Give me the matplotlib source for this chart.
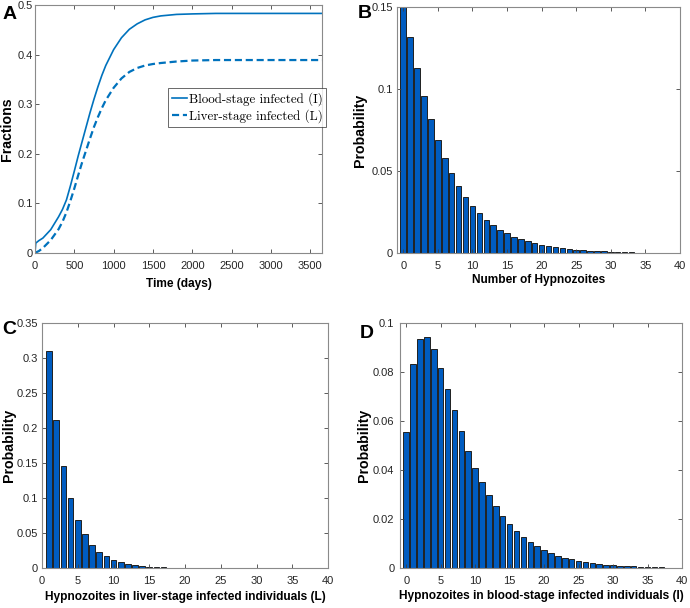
import matplotlib
matplotlib.use("Agg")
import matplotlib.pyplot as plt
from matplotlib.ticker import FormatStrFormatter
import numpy as np

SANS = ['Liberation Sans', 'DejaVu Sans']
plt.rcParams['font.family'] = SANS

# panel A: fractions over time
days = [0, 10, 50, 100, 200, 300, 350, 400, 450, 500, 550, 600, 650, 700,
        750, 800, 850, 900, 1000, 1100, 1200, 1300, 1400, 1500, 1600, 1800,
        2000, 2300, 2600, 3000, 3650]
blood_I = [0, 0.020, 0.025, 0.030, 0.047, 0.073, 0.088, 0.107, 0.135, 0.165,
           0.196, 0.225, 0.254, 0.283, 0.310, 0.335, 0.358, 0.378, 0.410,
           0.434, 0.451, 0.462, 0.470, 0.475, 0.478, 0.481, 0.482, 0.483,
           0.483, 0.483, 0.483]
liver_L = [0, 0.001, 0.004, 0.010, 0.026, 0.048, 0.063, 0.082, 0.105, 0.130,
           0.157, 0.183, 0.207, 0.231, 0.254, 0.274, 0.292, 0.308, 0.333,
           0.352, 0.365, 0.373, 0.378, 0.381, 0.383, 0.386, 0.388, 0.389,
           0.389, 0.389, 0.389]

# panel B: number of hypnozoites
hyp_B = [0.152, 0.132, 0.113, 0.096, 0.082, 0.0686, 0.0577, 0.0488, 0.0407,
         0.0344, 0.0285, 0.0241, 0.0204, 0.0170, 0.0142, 0.0121, 0.0099,
         0.0085, 0.0071, 0.0059, 0.0049, 0.0040, 0.0034, 0.0028, 0.0024,
         0.0020, 0.0017, 0.0014, 0.0012, 0.0010, 0.0008, 0.0006, 0.0005,
         0.0004]

# panel C: hypnozoites in liver-stage infected (starts at 1)
hyp_C = [0.310, 0.212, 0.145, 0.0997, 0.0684, 0.048, 0.0332, 0.0233,
         0.0166, 0.0119, 0.0082, 0.0057, 0.0040, 0.0028, 0.0020, 0.0013,
         0.0009]

# panel D: hypnozoites in blood-stage infected
hyp_D = [0.0555, 0.0834, 0.0936, 0.0942, 0.0892, 0.0818, 0.0732, 0.0644,
         0.0558, 0.0478, 0.0410, 0.0350, 0.0298, 0.0253, 0.0212, 0.0180,
         0.0152, 0.0128, 0.0107, 0.0090, 0.0073, 0.0061, 0.0050, 0.0042,
         0.0035, 0.0030, 0.0025, 0.0019, 0.0016, 0.0014, 0.0011, 0.0009,
         0.0008, 0.0007, 0.0005, 0.0004, 0.0003, 0.0003, 0.0002]

line_col = '#0072BD'
bar_col = '#005CC0'
axis_col = '#404040'

fig = plt.figure(figsize=(6.9, 6.08), dpi=100)


def style_axes(ax, ypad):
    for s in ax.spines.values():
        s.set_color('#8a8a8a')
        s.set_linewidth(0.8)
    ax.tick_params(direction='in', top=True, right=True, length=3,
                   width=0.6, color=axis_col, labelcolor='#262626',
                   labelsize=8)
    ax.tick_params(axis='x', pad=5.5)
    ax.tick_params(axis='y', pad=ypad)


def labels(ax, xl, yl, xpos, ypos):
    ax.set_xlabel(xl, fontweight='bold', fontsize=8.6)
    ax.set_ylabel(yl, fontweight='bold', fontsize=10.2)
    ax.xaxis.set_label_coords(0.5, xpos)
    ax.yaxis.set_label_coords(ypos, 0.5)


# A
axA = fig.add_axes([0.0507, 0.5839, 0.416, 0.4079])
axA.plot(days, blood_I, color=line_col, lw=1.2, label='Blood-stage infected (I)')
axA.plot(days, liver_L, color=line_col, lw=1.6, ls=(0, (3.2, 1.7)),
         label='Liver-stage infected (L)')
axA.set_xlim(0, 3650)
axA.set_ylim(0, 0.5)
axA.set_xticks(np.arange(0, 3501, 500))
axA.set_yticks([0, 0.1, 0.2, 0.3, 0.4, 0.5])
axA.yaxis.set_major_formatter(FormatStrFormatter('%g'))
style_axes(axA, 1.5)
labels(axA, 'Time (days)', 'Fractions', -0.10, -0.072)
leg = axA.legend(loc='upper left', bbox_to_anchor=(0.463, 0.665), frameon=True,
                 fancybox=False, edgecolor='#262626', handlelength=1.15,
                 borderpad=0.28, labelspacing=0.3, handletextpad=0.18,
                 borderaxespad=0, prop={'family': ['cmr10', 'DejaVu Serif'], 'size': 9.4})
leg.get_frame().set_linewidth(0.6)

# B
axB = fig.add_axes([0.5754, 0.5839, 0.4101, 0.4046])
axB.bar(np.arange(len(hyp_B)), hyp_B, width=0.8, color=bar_col,
        edgecolor='#202020', linewidth=0.7)
axB.set_xlim(-0.9, 40)
axB.set_ylim(0, 0.15)
axB.set_xticks(np.arange(0, 41, 5))
axB.set_yticks([0, 0.05, 0.1, 0.15])
axB.yaxis.set_major_formatter(FormatStrFormatter('%g'))
style_axes(axB, 3)
labels(axB, 'Number of Hypnozoites', 'Probability', -0.085, -0.105)

# C
axC = fig.add_axes([0.0609, 0.0658, 0.4145, 0.403])
axC.bar(np.arange(1, len(hyp_C) + 1), hyp_C, width=0.8, color=bar_col,
        edgecolor='#202020', linewidth=0.7)
axC.set_xlim(0, 40)
axC.set_ylim(0, 0.35)
axC.set_xticks(np.arange(0, 41, 5))
axC.set_yticks(np.arange(0, 0.351, 0.05))
axC.yaxis.set_major_formatter(FormatStrFormatter('%g'))
style_axes(axC, 3)
labels(axC, 'Hypnozoites in liver-stage infected individuals (L)', 'Probability',
       -0.095, -0.092)

# D
axD = fig.add_axes([0.5797, 0.0658, 0.4087, 0.403])
axD.bar(np.arange(len(hyp_D)), hyp_D, width=0.8, color=bar_col,
        edgecolor='#202020', linewidth=0.7)
axD.set_xlim(-0.9, 40)
axD.set_ylim(0, 0.1)
axD.set_xticks(np.arange(0, 41, 5))
axD.set_yticks(np.arange(0, 0.101, 0.02))
axD.yaxis.set_major_formatter(FormatStrFormatter('%g'))
style_axes(axD, 4)
labels(axD, 'Hypnozoites in blood-stage infected individuals (I)', 'Probability',
       -0.088, -0.102)

# panel letters
for txt, x, y in [('A', 0.004, 0.99), ('B', 0.518, 0.992),
                  ('C', 0.003, 0.472), ('D', 0.522, 0.466)]:
    fig.text(x, y, txt, fontsize=14, fontweight='bold', va='top', ha='left')

fig.savefig('out.png', dpi=100)
